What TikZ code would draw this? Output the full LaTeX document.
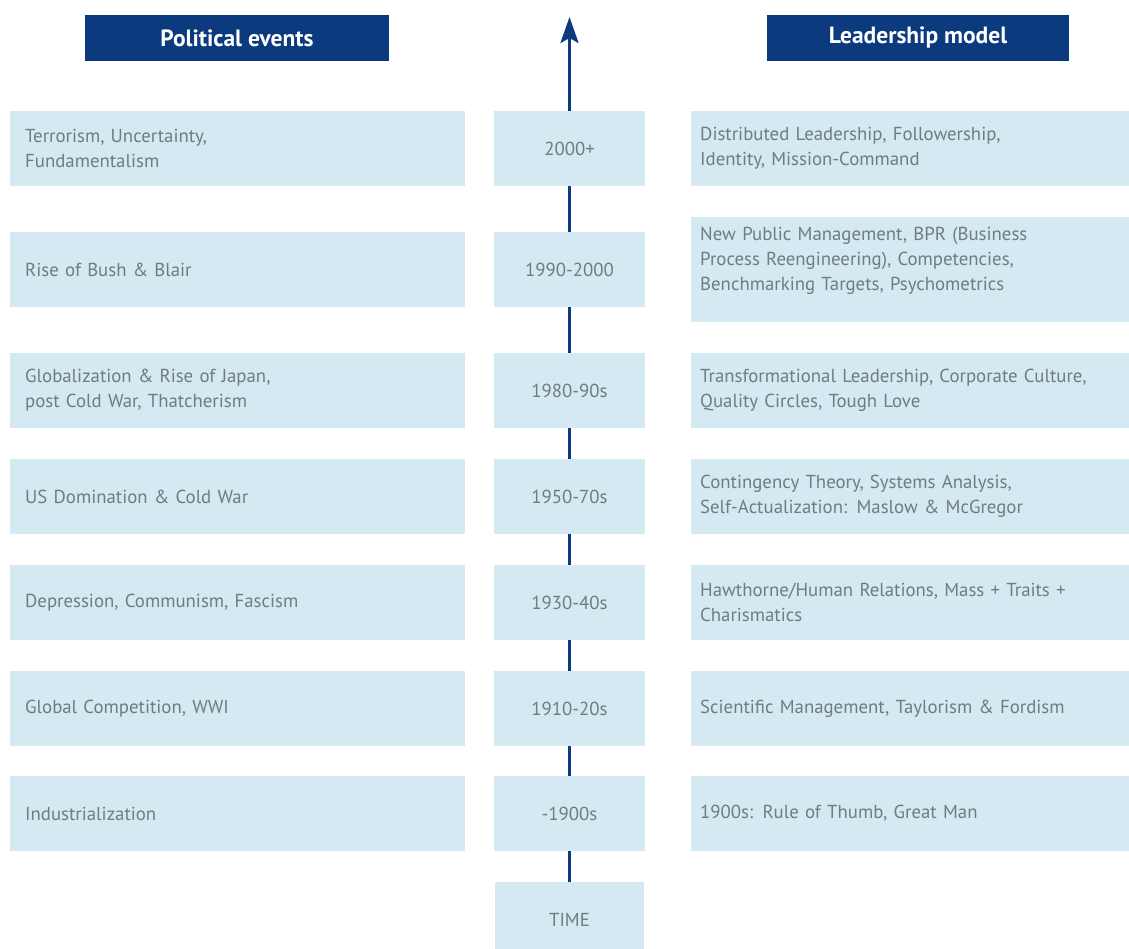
\documentclass[tikz,border=0pt]{standalone}
\usepackage{fontspec}
\setmainfont{PT Sans}
\usetikzlibrary{arrows.meta}
\definecolor{navy}{HTML}{0B3A7E}
\definecolor{paleblue}{HTML}{D4E9F1}
\definecolor{boxtext}{HTML}{6F7D83}

\begin{document}
\begin{tikzpicture}[x=1pt,y=-1pt]
\tikzset{header/.style = {fill=navy, text=white, font=\bfseries\fontsize{23.5}{26}\selectfont, minimum height=46, inner sep=0}}
\tikzset{event/.style = {fill=paleblue, text=boxtext, font=\fontsize{18.8}{25}\selectfont, text width=425, align=left, minimum height=75, inner xsep=15, inner ysep=0, anchor=west}}
\tikzset{period/.style = {fill=paleblue, text=boxtext, font=\fontsize{18.8}{25}\selectfont, minimum width=151, minimum height=75, inner sep=0}}
\tikzset{model/.style = {event, text width=420, inner xsep=9}}
\tikzset{timeline/.style = {draw=navy, line width=3pt}}

\useasboundingbox (0,0) rectangle (1129,949);

% Column headers
\node[header, minimum width=304] (H1) at (237,38) {Political events};
\node[header, minimum width=302] (H2) at (918,38) {Leadership model};

% Political events
\node[event] (E1) at (10,148.5) {Terrorism, Uncertainty,\\Fundamentalism};
\node[event] (E2) at (10,269.5) {Rise of Bush \& Blair};
\node[event] (E3) at (10,390.5) {Globalization \& Rise of Japan,\\post Cold War, Thatcherism};
\node[event] (E4) at (10,496.5) {US Domination \& Cold War};
\node[event] (E5) at (10,602.5) {Depression, Communism, Fascism};
\node[event] (E6) at (10,708.5) {Global Competition, WWI};
\node[event] (E7) at (10,813.5) {Industrialization};

% Time line
\node[period] (P1) at (569.5,148.5) {2000+};
\node[period] (P2) at (569.5,269.5) {1990-2000};
\node[period] (P3) at (569.5,390.5) {1980-90s};
\node[period] (P4) at (569.5,496.5) {1950-70s};
\node[period] (P5) at (569.5,602.5) {1930-40s};
\node[period] (P6) at (569.5,708.5) {1910-20s};
\node[period] (P7) at (569.5,813.5) {-1900s};
\node[period, minimum width=149] (T) at (569.5,919.5) {TIME};
\coordinate (tip) at (569.5,17);

% Leadership models
\node[model] (M1) at (691,148.5) {Distributed Leadership, Followership,\\Identity, Mission-Command};
\node[model, minimum height=105] (M2) at (691,269.5) {};
\node[model, fill=none] (M2t) at (691,260.5) {New Public Management, BPR (Business\\Process Reengineering), Competencies,\\Benchmarking Targets, Psychometrics};
\node[model] (M3) at (691,390.5) {Transformational Leadership, Corporate Culture,\\Quality Circles, Tough Love};
\node[model] (M4) at (691,496.5) {Contingency Theory, Systems Analysis,\\Self-Actualization: Maslow \& McGregor};
\node[model] (M5) at (691,602.5) {Hawthorne/Human Relations, Mass + Traits +\\Charismatics};
\node[model] (M6) at (691,708.5) {Scientific Management, Taylorism \& Fordism};
\node[model] (M7) at (691,813.5) {1900s: Rule of Thumb, Great Man};

\draw[timeline, -{Stealth[length=26pt,width=18pt,inset=5pt]}] (P1.north) -- (tip);
\draw[timeline] (P1.south) -- (P2.north);
\draw[timeline] (P2.south) -- (P3.north);
\draw[timeline] (P3.south) -- (P4.north);
\draw[timeline] (P4.south) -- (P5.north);
\draw[timeline] (P5.south) -- (P6.north);
\draw[timeline] (P6.south) -- (P7.north);
\draw[timeline] (P7.south) -- (T.north);

\end{tikzpicture}
\end{document}
